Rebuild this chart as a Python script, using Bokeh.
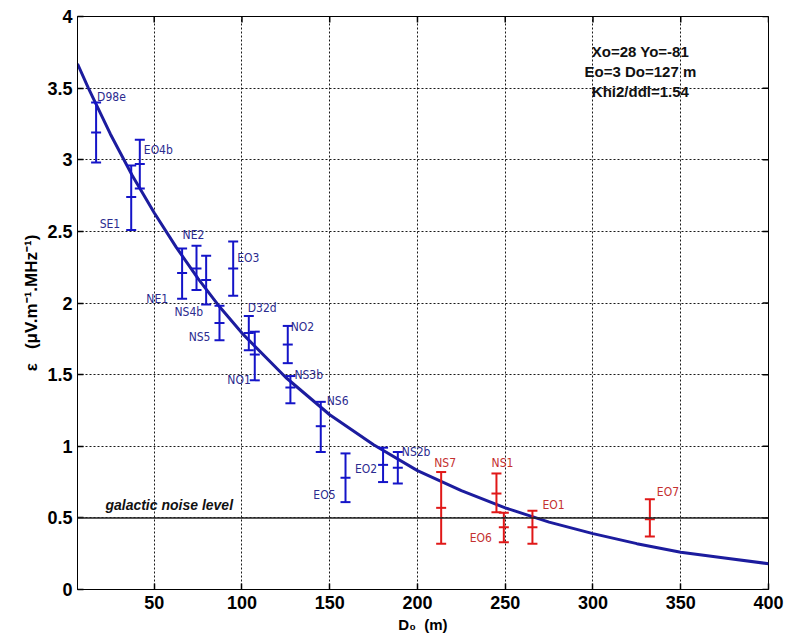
import math
from bokeh.plotting import figure
from bokeh.models import ColumnDataSource, Label, Span, FixedTicker
from bokeh.core.properties import value
from bokeh.embed import file_html
from bokeh.resources import INLINE

# ---- data ----
blue_names = ["D98e", "SE1", "EO4b", "NE1", "NE2", "NS4b", "NS5", "EO3",
              "D32d", "NO1", "NO2", "NS3b", "NS6", "EO5", "EO2", "NS2b"]
blue_d = [16.9, 36.9, 41.8, 65.9, 74.1, 79.6, 87.2, 95.0,
          103.9, 107.3, 126.1, 127.6, 144.9, 159.0, 180.4, 188.8]
blue_eps = [3.19, 2.74, 2.97, 2.21, 2.24, 2.16, 1.86, 2.24,
            1.79, 1.64, 1.71, 1.41, 1.14, 0.78, 0.87, 0.85]
blue_low = [2.98, 2.51, 2.80, 2.03, 2.09, 1.99, 1.74, 2.05,
            1.67, 1.46, 1.58, 1.30, 0.96, 0.61, 0.75, 0.74]
blue_high = [3.40, 2.96, 3.14, 2.38, 2.40, 2.33, 1.98, 2.43,
             1.91, 1.80, 1.84, 1.49, 1.31, 0.95, 0.99, 0.96]

red_names = ["NS7", "NS1", "EO6", "EO1", "EO7"]
red_d = [213.5, 245.0, 249.2, 265.5, 332.4]
red_eps = [0.57, 0.67, 0.435, 0.435, 0.49]
red_low = [0.32, 0.54, 0.33, 0.32, 0.37]
red_high = [0.82, 0.81, 0.535, 0.55, 0.63]

fit_d = [6.3, 12.5, 25, 37.5, 50, 62.5, 75, 87.5, 100, 125, 150, 175, 200,
         225, 250, 275, 300, 325, 350, 375, 400]
fit_eps = [3.67, 3.50, 3.18, 2.89, 2.63, 2.39, 2.17, 1.97, 1.79, 1.48, 1.22,
           1.01, 0.83, 0.69, 0.57, 0.47, 0.39, 0.32, 0.26, 0.22, 0.18]

noise_level = 0.5
x_ticks = [50, 100, 150, 200, 250, 300, 350, 400]
y_ticks = [0, 0.5, 1, 1.5, 2, 2.5, 3, 3.5, 4]
fit_text = ["Xo=28 Yo=-81", "Eo=3 Do=127 m", "Khi2/ddl=1.54"]
NB = "\u00a0"
x_title = "D\u2080" + NB * 2 + "(m)"
y_title = "\u03b5" + NB * 3 + "(\u03bcV.m\u207b\u00b9.MHz\u207b\u00b9)"

# ---- label placement (anchor on bar, pixel offsets, alignment) ----
blue_lab = [("high", 1, -5, "left"), ("low", -11, -6, "right"), ("high", 4, 10, "left"),
            ("low", -14, 0, "right"), ("high", -3, -11, "center"), ("low", -3, 8, "right"),
            ("low", -9, -3, "right"), ("high", 4, 17, "left"), ("high", -1, -8, "left"),
            ("low", -4, 0, "right"), ("high", 3, 1, "left"), ("high", 4, -1, "left"),
            ("high", 6, -1, "left"), ("low", -10, -7, "right"), ("mid", -6, 4, "right"),
            ("high", 4, 0, "left")]
red_lab = [("high", 4, -9, "center"), ("high", 6, -10, "center"), ("low", -12, -4, "right"),
           ("high", 10, -6, "left"), ("high", 7, -7, "left")]

BLUE = "#1414c8"
BLUE_TXT = "#2b2b8f"
CURVE = "#1c1c9e"
RED = "#e01818"
RED_TXT = "#c43030"
LAB_FONT = "Liberation Sans Narrow, DejaVu Sans Condensed, Liberation Sans"

X0, X1, Y0, Y1 = 6.3, 400, 0, 4
p = figure(width=790, height=641, x_range=(X0, X1), y_range=(Y0, Y1),
           output_backend="svg", toolbar_location=None,
           min_border_left=77, min_border_right=22, min_border_top=16,
           min_border_bottom=52, background_fill_color="white",
           border_fill_color="white")
p.outline_line_color = "black"
p.outline_line_width = 1

p.xaxis.ticker = FixedTicker(ticks=x_ticks)
p.yaxis.ticker = FixedTicker(ticks=y_ticks)
p.xaxis.major_label_overrides = {t: f"{t:g}" for t in x_ticks}
p.yaxis.major_label_overrides = {t: f"{t:g}" for t in y_ticks}
for ax in (p.xaxis[0], p.yaxis[0]):
    ax.major_label_text_font = "Liberation Sans"
    ax.major_label_text_font_style = "bold"
    ax.major_label_text_font_size = "18px"
    ax.major_label_text_color = "black"
    ax.major_tick_in = 6
    ax.major_tick_out = 0
    ax.major_tick_line_width = 1.5
    ax.minor_tick_line_color = None
    ax.axis_line_color = "black"
    ax.axis_label_text_font = "Liberation Sans"
    ax.axis_label_text_font_style = "bold"
    ax.axis_label_text_color = "black"
p.xaxis.major_label_standoff = 6
p.yaxis.major_label_standoff = 5
p.xaxis.axis_label = x_title
p.xaxis.axis_label_text_font_size = "15px"
p.xaxis.axis_label_standoff = 4
p.yaxis.axis_label = y_title
p.yaxis.axis_label_text_font_size = "17px"
p.yaxis.axis_label_standoff = 3

p.grid.grid_line_color = "#000000"
p.grid.grid_line_dash = "2 2"
p.grid.grid_line_width = 1
p.grid.grid_line_alpha = 0.9

# inward ticks on the top and right edges of the box
p.scatter(x=x_ticks, y=[Y1] * len(x_ticks), marker="dash", angle=math.pi / 2,
          size=12, line_color="black", line_width=1.5)
p.scatter(x=[X1] * len(y_ticks), y=y_ticks, marker="dash", size=12,
          line_color="black", line_width=1.5)

# galactic noise level
p.add_layout(Span(location=noise_level, dimension="width", line_color="#222222",
                  line_width=1.5))
p.add_layout(Label(x=22.2, y=noise_level + 0.087, text="galactic noise level",
                   text_font="Liberation Sans Narrow, Liberation Sans",
                   text_font_style="bold italic", text_font_size="14px",
                   text_baseline="middle", text_color="#111111"))

# fit curve
p.line(fit_d, fit_eps, line_color=CURVE, line_width=3)


def bars(names, d, eps, lo, hi, lab, col, tcol):
    anchor_y = []
    for (a, dx, dy, al), e, l, h in zip(lab, eps, lo, hi):
        anchor_y.append(h if a == "high" else (l if a == "low" else e))
    src = ColumnDataSource(dict(
        name=names, d=d, eps=eps, lo=lo, hi=hi, ay=anchor_y,
        dx=[t[1] for t in lab], dy=[t[2] for t in lab], al=[t[3] for t in lab]))
    p.segment(x0="d", y0="lo", x1="d", y1="hi", source=src, line_color=col, line_width=2)
    for yk in ("lo", "hi", "eps"):
        p.scatter(x="d", y=yk, source=src, marker="dash", size=10,
                  line_color=col, line_width=2)
    p.text(x="d", y="ay", text="name", source=src, x_offset="dx", y_offset="dy",
           text_align="al", text_baseline="middle", text_font=value(LAB_FONT),
           text_font_size="12px", text_color=tcol)


bars(blue_names, blue_d, blue_eps, blue_low, blue_high, blue_lab, BLUE, BLUE_TXT)
bars(red_names, red_d, red_eps, red_low, red_high, red_lab, RED, RED_TXT)

# fit parameters text
for i, t in enumerate(fit_text):
    p.add_layout(Label(x=327, y=3.757 - 0.14 * i, text=t, text_align="center",
                       text_baseline="middle",
                       text_font="Liberation Sans Narrow, Liberation Sans",
                       text_font_style="bold", text_font_size="15px",
                       text_color="#111111"))

open("out.html", "w").write(file_html(p, INLINE))
